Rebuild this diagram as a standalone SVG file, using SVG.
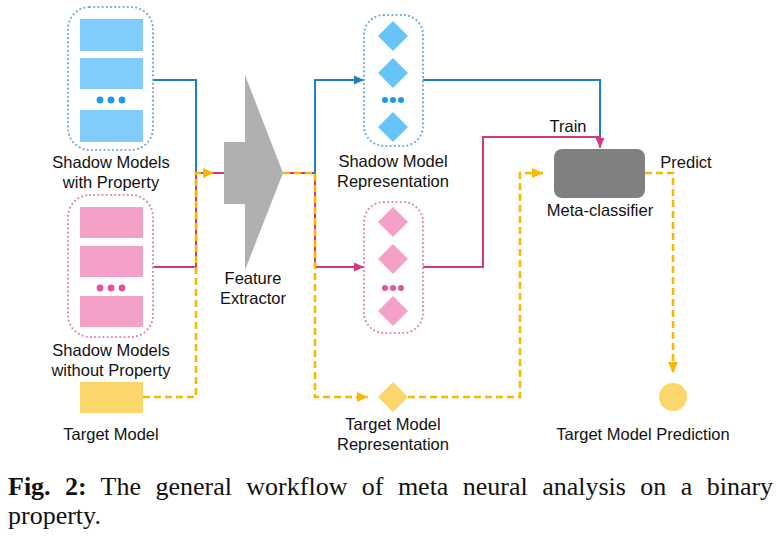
<svg xmlns="http://www.w3.org/2000/svg" width="781" height="536" viewBox="0 0 781 536">
<defs>
<style>
.lbl{font-family:"Liberation Sans",Arial,sans-serif;font-size:16.5px;fill:#111;text-anchor:middle}
.cap{font-family:"Liberation Serif","Times New Roman",serif;font-size:26px;fill:#111}
.dotb{fill:none;stroke:#6aaad8;stroke-width:2.2;stroke-dasharray:0 4.2;stroke-linecap:round}
.dotp{fill:none;stroke:#e184b6;stroke-width:2.2;stroke-dasharray:0 4.2;stroke-linecap:round}
.rb{fill:#80cdfb}
.rp{fill:#f5a0c9}
.db{fill:#66c4f6}
.dp{fill:#f5a0c9}
.blue{fill:none;stroke:#1e7fc2;stroke-width:2}
.mag{fill:none;stroke:#d2377f;stroke-width:2}
.org{fill:none;stroke:#f9b700;stroke-width:2.6;stroke-dasharray:7 4}
</style>
<marker id="ab" viewBox="0 0 10 10" refX="10" refY="5" markerWidth="10" markerHeight="10" markerUnits="userSpaceOnUse" orient="auto"><path d="M0,0.5 L10,5 L0,9.5 z" fill="#1e7fc2"/></marker>
<marker id="am" viewBox="0 0 10 10" refX="10" refY="5" markerWidth="10" markerHeight="10" markerUnits="userSpaceOnUse" orient="auto"><path d="M0,0.5 L10,5 L0,9.5 z" fill="#d2377f"/></marker>
<marker id="ao" viewBox="0 0 10 10" refX="10" refY="5" markerWidth="11" markerHeight="11" markerUnits="userSpaceOnUse" orient="auto"><path d="M0,0.5 L10,5 L0,9.5 z" fill="#f9b700"/></marker>
</defs>
<rect width="781" height="536" fill="#fff"/>

<g id="connectors">
<path class="blue" d="M153,80 H196 V173"/>
<path class="mag" d="M153,267 H196 V173 H224"/>
<path class="org" d="M143,397 H196 V173 H214" marker-end="url(#ao)"/>
<path class="mag" d="M283,173 H315 V267 H364" marker-end="url(#am)"/>
<path class="blue" d="M315,173 V80 H364" marker-end="url(#ab)"/>
<path class="mag" d="M315,173 V267"/>
<path class="org" d="M283,173 H315 V397 H368" marker-end="url(#ao)"/>
<path class="blue" d="M423,80 H600 V137"/>
<path class="mag" d="M423,267 H483 V137 H600 V148" marker-end="url(#am)"/>
<path class="org" d="M408,397 H520 V173 H543" marker-end="url(#ao)"/>
<path class="org" d="M645,173 H673 V373" marker-end="url(#ao)"/>
</g>

<g id="shadow-with">
<rect class="dotb" x="68" y="7" width="85" height="143" rx="22"/>
<rect class="rb" x="80" y="19" width="63" height="32"/>
<rect class="rb" x="80" y="58" width="63" height="31"/>
<circle cx="100" cy="100" r="3.4" fill="#1a9bf0"/><circle cx="111" cy="100" r="3.4" fill="#1a9bf0"/><circle cx="122" cy="100" r="3.4" fill="#1a9bf0"/>
<rect class="rb" x="80" y="110" width="63" height="32"/>
<text class="lbl" x="111" y="168">Shadow Models</text>
<text class="lbl" x="111" y="188">with Property</text>
</g>

<g id="shadow-without">
<rect class="dotp" x="68" y="195" width="85" height="142" rx="22"/>
<rect class="rp" x="80" y="207" width="63" height="31"/>
<rect class="rp" x="80" y="246" width="63" height="31"/>
<circle cx="100" cy="288" r="3.4" fill="#e9509c"/><circle cx="111" cy="288" r="3.4" fill="#e9509c"/><circle cx="122" cy="288" r="3.4" fill="#e9509c"/>
<rect class="rp" x="80" y="296" width="63" height="31"/>
<text class="lbl" x="111" y="356">Shadow Models</text>
<text class="lbl" x="111" y="376">without Property</text>
</g>

<g id="target-model">
<rect x="80" y="382" width="63" height="31" fill="#fad66b"/>
<text class="lbl" x="111" y="440">Target Model</text>
</g>

<g id="feature-extractor">
<polygon points="224,142 245,142 245,75 283,173 245,270 245,204 224,204" fill="#b0b0b0"/>
<text class="lbl" x="253" y="284">Feature</text>
<text class="lbl" x="253" y="304">Extractor</text>
</g>

<g id="shadow-rep">
<rect class="dotb" x="364" y="15" width="59" height="131" rx="20"/>
<polygon class="db" points="393,21 408,36 393,51 378,36"/>
<polygon class="db" points="393,58 408,73 393,88 378,73"/>
<circle cx="385" cy="100" r="3" fill="#1a9bf0"/><circle cx="393" cy="100" r="3" fill="#1a9bf0"/><circle cx="401" cy="100" r="3" fill="#1a9bf0"/>
<polygon class="db" points="393,112 408,127 393,142 378,127"/>
<text class="lbl" x="393" y="167">Shadow Model</text>
<text class="lbl" x="393" y="187">Representation</text>
</g>

<g id="shadow-rep-without">
<rect class="dotp" x="364" y="202" width="59" height="131" rx="20"/>
<polygon class="dp" points="393,207 408,222 393,237 378,222"/>
<polygon class="dp" points="393,244 408,259 393,274 378,259"/>
<circle cx="385" cy="288" r="3" fill="#e9509c"/><circle cx="393" cy="288" r="3" fill="#e9509c"/><circle cx="401" cy="288" r="3" fill="#e9509c"/>
<polygon class="dp" points="393,296 408,311 393,326 378,311"/>
</g>

<g id="target-rep">
<polygon points="393,382 408,397 393,412 378,397" fill="#fad66b"/>
<text class="lbl" x="393" y="430">Target Model</text>
<text class="lbl" x="393" y="450">Representation</text>
</g>

<g id="meta-classifier">
<rect x="554" y="149" width="91" height="49" rx="8" fill="#808080"/>
<text class="lbl" x="600" y="216">Meta-classifier</text>
<text class="lbl" x="568" y="132">Train</text>
<text class="lbl" x="686" y="168">Predict</text>
</g>

<g id="prediction">
<circle cx="673" cy="397" r="14" fill="#fad66b"/>
<text class="lbl" x="643" y="440">Target Model Prediction</text>
</g>

<g id="caption">
<text class="cap" x="8" y="495" style="word-spacing:7.9px"><tspan font-weight="bold">Fig. 2:</tspan> The general workflow of meta neural analysis on a binary</text>
<text class="cap" x="8" y="524">property.</text>
</g>
</svg>
